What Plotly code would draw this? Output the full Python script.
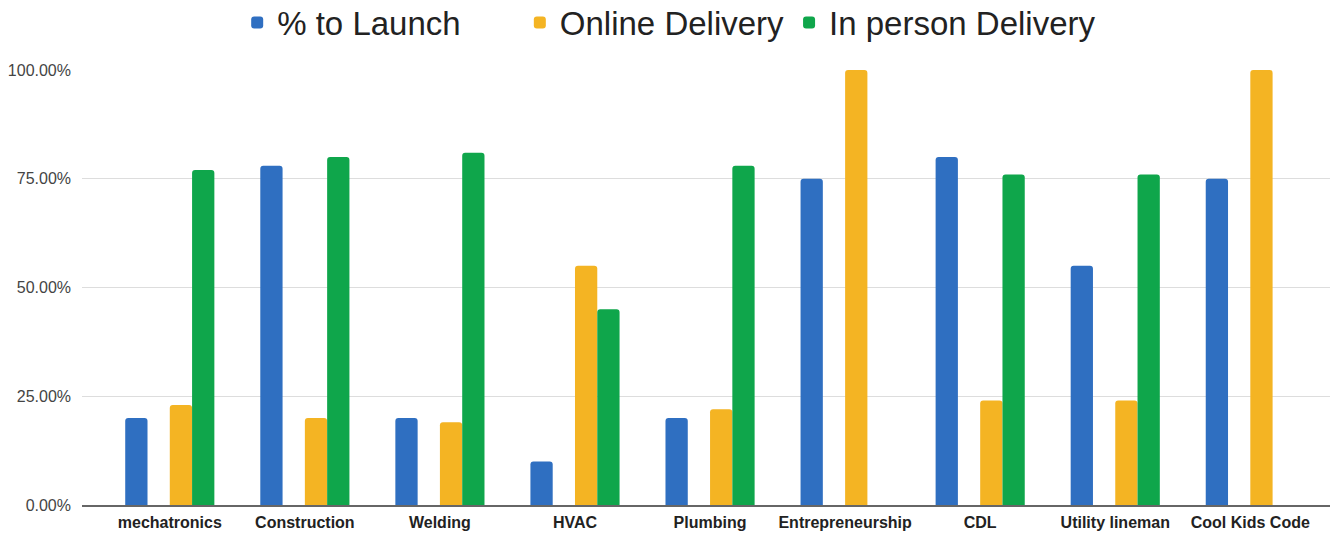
import plotly.graph_objects as go

categories = ["mechatronics", "Construction", "Welding", "HVAC", "Plumbing",
              "Entrepreneurship", "CDL", "Utility lineman", "Cool Kids Code"]
launch = [0.20, 0.78, 0.20, 0.10, 0.20, 0.75, 0.80, 0.55, 0.75]
blank = [None] * 9
online = [0.23, 0.20, 0.19, 0.55, 0.22, 1.00, 0.24, 0.24, 1.00]
in_person = [0.77, 0.80, 0.81, 0.45, 0.78, None, 0.76, 0.76, None]
y_ticks = [0, 0.25, 0.5, 0.75, 1.0]

fig = go.Figure()
fig.add_bar(x=categories, y=launch, name="% to Launch", marker_color="#2F6FC1")
fig.add_bar(x=categories, y=blank, name=" ", marker_color="rgba(0,0,0,0)")
fig.add_bar(x=categories, y=online, name="Online Delivery", marker_color="#F4B423")
fig.add_bar(x=categories, y=in_person, name="In person Delivery", marker_color="#0FA64B")

fig.update_traces(marker_line_width=0, marker_cornerradius=3, hoverinfo="skip")

fig.update_layout(
    width=1339, height=535,
    margin=dict(l=82, r=9, t=70, b=30, autoexpand=False),
    paper_bgcolor="white", plot_bgcolor="white",
    barmode="group", bargap=0.34, bargroupgap=0,
    font=dict(family="Liberation Sans, Arial, sans-serif", color="#222"),
    legend=dict(orientation="h", x=0.4705, xanchor="center", y=0.958, yanchor="middle",
                yref="container", font=dict(size=33, color="#222"),
                itemclick=False, traceorder="normal"),
    showlegend=True,
)
fig.update_xaxes(range=[-0.65, 8.59], showgrid=False, showline=True,
                 linecolor="#666", linewidth=1.5, automargin=False,
                 tickfont=dict(size=16, color="#222", family="Liberation Sans, Arial, sans-serif", weight="bold"),
                 ticks="", ticklabelstandoff=2)
fig.update_yaxes(range=[0, 1.0], tickvals=y_ticks, tickformat=".2%",
                 showgrid=True, gridcolor="#DDDDDD", gridwidth=1,
                 zeroline=False, showline=False, automargin=False,
                 tickfont=dict(size=16, color="#444"), ticklabelstandoff=10)

fig.write_html("out.html", config={"displayModeBar": False},
               post_script="document.body.style.margin='0';document.body.style.overflow='hidden';")
